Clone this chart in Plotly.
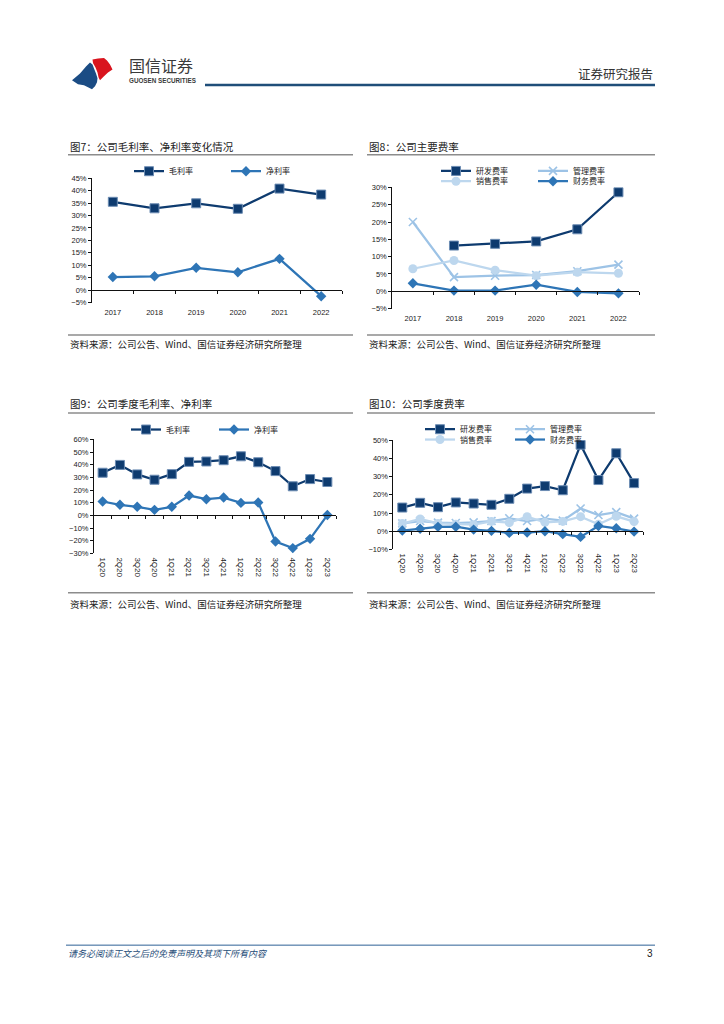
import plotly.graph_objects as go

W, H = 724, 1024
def fx(px): return px / W
def fy(py): return 1 - py / H

# ---------------- data ----------------
years = ['2017', '2018', '2019', '2020', '2021', '2022']
gross_annual = [35.5, 32.9, 34.9, 32.7, 40.8, 38.4]
net_annual = [5.3, 5.6, 9.0, 7.2, 12.6, -2.4]

rd_annual = [None, 13.2, 13.7, 14.4, 17.9, 28.6]
admin_annual = [20.0, 4.1, 4.5, 4.7, 5.8, 7.7]
sales_annual = [6.5, 8.9, 6.1, 4.5, 5.5, 5.2]
fin_annual = [2.3, 0.2, 0.2, 1.9, -0.2, -0.6]

quarters = ['1Q20', '2Q20', '3Q20', '4Q20', '1Q21', '2Q21', '3Q21', '4Q21',
            '1Q22', '2Q22', '3Q22', '4Q22', '1Q23', '2Q23']
gross_q = [33.7, 39.9, 32.4, 28.2, 32.6, 42.3, 42.6, 43.6, 46.7, 42.0, 35.0, 23.0, 28.7, 26.4]
net_q = [11.0, 8.4, 6.8, 4.4, 6.8, 15.7, 12.8, 14.1, 9.9, 10.2, -20.6, -25.8, -18.5, 0.3]
rd_q = [13.0, 15.6, 13.2, 15.8, 15.2, 14.5, 17.8, 23.4, 24.8, 22.5, 47.5, 28.1, 42.8, 26.4]
admin_q = [4.3, 5.6, 4.7, 4.5, 4.9, 5.6, 7.1, 5.6, 6.9, 5.8, 12.5, 8.9, 10.5, 6.9]
sales_q = [4.2, 6.7, 4.3, 3.8, 3.6, 5.4, 4.7, 8.0, 4.9, 5.4, 8.0, 3.8, 8.2, 5.3]
fin_q = [0.4, 1.4, 2.4, 2.5, 0.9, 0.2, -0.9, -0.7, 0.0, -1.6, -3.1, 2.9, 1.6, -0.2]

titles = ['图7：公司毛利率、净利率变化情况', '图8：公司主要费率',
          '图9：公司季度毛利率、净利率', '图10：公司季度费率']
source_text = '资料来源：公司公告、Wind、国信证券经济研究所整理'

# ---------------- styles ----------------
NAVY = '#0E3B6F'
NAVY_EDGE = '#6C8CB3'
MID = '#2E75B6'
LIGHT = '#9DC3E6'
PALE = '#BDD7EE'
CJK = 'Noto Sans CJK SC'
NUMF = 'Liberation Sans'

fig = go.Figure()

def line(x, y, name, color, symbol, size, xa, ya, legend, lw=2.25, mline=None):
    mk = dict(symbol=symbol, size=size, color=color)
    if symbol.startswith('x-thin'):
        mk = dict(symbol=symbol, size=size, color=color, line=dict(color=color, width=1.6))
    elif mline:
        mk['line'] = dict(color=mline, width=1)
    fig.add_trace(go.Scatter(x=x, y=y, name=name, mode='lines+markers',
                             line=dict(color=color, width=lw), marker=mk,
                             xaxis=xa, yaxis=ya, legend=legend, connectgaps=False,
                             hoverinfo='skip'))

# Chart 7
line(years, gross_annual, '毛利率', NAVY, 'square', 9, 'x', 'y', 'legend', mline=NAVY_EDGE)
line(years, net_annual, '净利率', MID, 'diamond', 8, 'x', 'y', 'legend')
# Chart 8
line(years, rd_annual, '研发费率', NAVY, 'square', 9, 'x2', 'y2', 'legend2', mline=NAVY_EDGE)
line(years, admin_annual, '管理费率', LIGHT, 'x-thin-open', 8, 'x2', 'y2', 'legend2')
line(years, sales_annual, '销售费率', PALE, 'circle', 9, 'x2', 'y2', 'legend3')
line(years, fin_annual, '财务费率', MID, 'diamond', 8, 'x2', 'y2', 'legend3')
# Chart 9
line(quarters, gross_q, '毛利率', NAVY, 'square', 9, 'x3', 'y3', 'legend4', mline=NAVY_EDGE)
line(quarters, net_q, '净利率', MID, 'diamond', 8, 'x3', 'y3', 'legend4')
# Chart 10
line(quarters, rd_q, '研发费率', NAVY, 'square', 9, 'x4', 'y4', 'legend5', mline=NAVY_EDGE)
line(quarters, admin_q, '管理费率', LIGHT, 'x-thin-open', 8, 'x4', 'y4', 'legend5')
line(quarters, sales_q, '销售费率', PALE, 'circle', 9, 'x4', 'y4', 'legend6')
line(quarters, fin_q, '财务费率', MID, 'diamond', 8, 'x4', 'y4', 'legend6')

panels = [
    dict(x=(92, 342), y=(175.7, 301.3), yr=(-5, 45), dt=5, cats=years, ang=0),
    dict(x=(392.3, 639), y=(185, 307.3), yr=(-5, 30), dt=5, cats=years, ang=0),
    dict(x=(94, 336), y=(439.3, 554.3), yr=(-30, 60), dt=10, cats=quarters, ang=90),
    dict(x=(393.4, 643), y=(440, 550.3), yr=(-10, 50), dt=10, cats=quarters, ang=90),
]

layout = dict(width=W, height=H, margin=dict(l=0, r=0, t=0, b=0),
              paper_bgcolor='white', plot_bgcolor='rgba(0,0,0,0)',
              font=dict(family=NUMF, size=8, color='#222'))

for i, p in enumerate(panels):
    k = i + 1
    sx = '' if k == 1 else str(k)
    n = len(p['cats'])
    xd = [fx(p['x'][0]), fx(p['x'][1])]
    yd = [fy(p['y'][1]), fy(p['y'][0])]
    layout['xaxis' + sx] = dict(domain=xd, anchor='y' + sx, type='category',
                                categoryorder='array', categoryarray=p['cats'],
                                range=[-0.5, n - 0.5], showline=False, ticks='',
                                showgrid=False, zeroline=False, tickangle=p['ang'],
                                ticklabelstandoff=4 if p['ang'] == 0 else 3,
                                tickfont=dict(family=NUMF, size=7.5 if p['ang'] == 0 else 8,
                                              color='#222'))
    layout['yaxis' + sx] = dict(domain=yd, anchor='x' + sx, range=list(p['yr']),
                                dtick=p['dt'], tick0=0, ticksuffix='%', showline=True,
                                linecolor='#111', linewidth=1, ticks='outside',
                                ticklen=3, tickcolor='#111', showgrid=False,
                                zeroline=False,
                                tickfont=dict(family=NUMF, size=7.5, color='#222'))
    # zero-crossing category axis with boundary ticks
    zpos = yd[0] + (0 - p['yr'][0]) / (p['yr'][1] - p['yr'][0]) * (yd[1] - yd[0])
    ox = 'xaxis' + str(k + 4)
    layout[ox] = dict(overlaying='x' + sx, anchor='free', position=zpos,
                      domain=xd, range=[-0.5, n - 0.5], showline=True,
                      linecolor='#111', linewidth=1, ticks='outside', ticklen=3,
                      tickcolor='#111', tickvals=[j + 0.5 for j in range(n)],
                      showticklabels=False, showgrid=False, zeroline=False)
    fig.add_trace(go.Scatter(x=[], y=[], xaxis='x' + str(k + 4), yaxis='y' + sx,
                             showlegend=False, hoverinfo='skip'))

leg_font = dict(family=CJK, size=8, color='#222')
def leg(xpx, ypx, ew):
    return dict(x=fx(xpx), y=fy(ypx), xanchor='left', yanchor='middle',
                orientation='h', bgcolor='rgba(0,0,0,0)', font=leg_font,
                entrywidth=ew, entrywidthmode='pixels', itemwidth=30,
                tracegroupgap=0, traceorder='normal')

layout['legend'] = leg(129, 168.7, 52)
layout['legend2'] = leg(436, 168.4, 52)
layout['legend3'] = leg(436, 178.8, 52)
layout['legend4'] = leg(126, 429.3, 43)
layout['legend5'] = leg(420, 429, 45)
layout['legend6'] = leg(420, 439.4, 45)

fig.update_layout(**layout)

# ---------------- page decorations ----------------
shapes = []
annos = []

def hline(x0, x1, y, color, w):
    shapes.append(dict(type='line', xref='paper', yref='paper', x0=fx(x0), x1=fx(x1),
                       y0=fy(y), y1=fy(y), line=dict(color=color, width=w)))

def text(x, y, s, size, color='#222', fam=CJK, anchor='left'):
    annos.append(dict(xref='paper', yref='paper', x=fx(x), y=fy(y), text=s,
                      showarrow=False, xanchor=anchor, yanchor='middle',
                      font=dict(family=fam, size=size, color=color)))

# header
hline(205, 655, 81.7, '#1F4E79', 2.5)
text(655, 70, '证券研究报告', 12.5, '#333', anchor='right')
text(127, 62, '国信证券', 16, '#3a3a3a')
text(127, 77.5, '<b>GUOSEN SECURITIES</b>', 6.3, '#3a3a3a', fam=NUMF)

def path(pts):
    return 'M ' + ' L '.join(f'{fx(a):.5f},{fy(b):.5f}' for a, b in pts) + ' Z'
blue_pts = [(72, 77), (80, 70), (86, 63), (90, 59), (92.5, 61), (94, 65), (96, 70),
            (97.5, 75), (97, 79), (95, 83), (92, 86), (88, 84), (84, 82), (78, 81)]
red_pts = [(92.5, 56), (98, 55), (104, 54.5), (107, 57), (110, 61), (112.5, 66),
           (108, 69), (104, 73), (100, 77), (98.5, 74), (97.5, 69), (95.5, 64), (93, 59.5)]
shapes.append(dict(type='path', xref='paper', yref='paper', path=path(blue_pts),
                   fillcolor='#1B4C84', line=dict(width=0)))
shapes.append(dict(type='path', xref='paper', yref='paper', path=path(red_pts),
                   fillcolor='#D9141E', line=dict(width=0)))

# chart titles and rules
blocks = [(68, 353, 143.3, 152, 334, 343.3), (367, 655, 143.3, 152, 334, 343.3),
          (68, 353, 403.3, 412.7, 594, 605), (367, 655, 403.3, 412.7, 594, 605)]
for t, (x0, x1, ty, ly, sy, sty) in zip(titles, blocks):
    text(x0, ty, t, 10.5, '#222')
    hline(x0, x1, ly, '#8c8c8c', 1.5)
    hline(x0, x1, sy, '#8c8c8c', 1.5)
    text(x0, sty, source_text, 9.5, '#222')

# footer
hline(66, 655, 949.5, '#2E6195', 1)
text(66, 957.5, '<i>请务必阅读正文之后的免责声明及其项下所有内容</i>', 9, '#1F4E79')
text(655, 958, '3', 10, '#222', fam=NUMF, anchor='right')

fig.update_layout(shapes=shapes, annotations=annos)
fig.write_html('out.html', config={'displayModeBar': False},
               post_script="document.body.style.margin='0';document.body.style.overflow='hidden';")
